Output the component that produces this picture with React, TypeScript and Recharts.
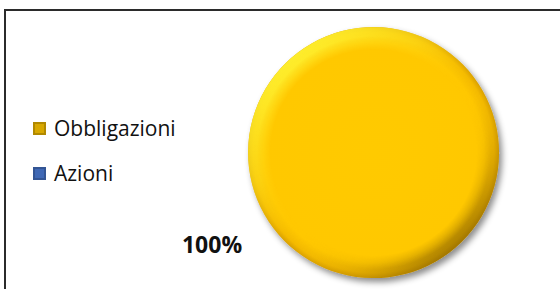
import { Cell, Pie, PieChart } from 'recharts'

const categories = ['Obbligazioni', 'Azioni']
const shares = [100, 0]
const sliceColors = ['#FFC800', '#3F68B5']
const legendColors = ['#D8A800', '#3F68B5']

const data = categories.map((name, index) => ({ name, value: shares[index] }))

const RADIAN = Math.PI / 180

function renderLabel(props: any) {
  const { cx, cy, midAngle, outerRadius, percent, value } = props
  if (!value) {
    return null
  }
  const r = outerRadius + 60
  const x = cx + r * Math.cos(-midAngle * RADIAN)
  const y = cy + r * Math.sin(-midAngle * RADIAN)
  return (
    <text
      x={x}
      y={y}
      textAnchor="middle"
      dominantBaseline="central"
      fontFamily="'Open Sans', sans-serif"
      fontWeight={700}
      fontSize={23}
      fill="#111"
    >
      {`${Math.round(percent * 100)}%`}
    </text>
  )
}

export default function App() {
  return (
    <div style={{ position: 'fixed', left: 0, top: 0, width: 560, height: 289, background: '#fff', overflow: 'hidden' }}>
      <div
        style={{
          position: 'absolute',
          left: 4,
          top: 9,
          width: 620,
          height: 320,
          border: '2px solid #2b2b2b',
          boxSizing: 'border-box',
        }}
      />
      <div style={{ position: 'absolute', left: 0, top: 0 }}>
        <PieChart width={560} height={289} margin={{ top: 0, right: 0, bottom: 0, left: 0 }}>
          <defs>
            <radialGradient id="pieFill" cx="50%" cy="50%" r="50%">
              <stop offset="0%" stopColor="#FFCA00" />
              <stop offset="88%" stopColor="#FFC800" />
              <stop offset="96%" stopColor="#F4BA00" />
              <stop offset="100%" stopColor="#D9A000" />
            </radialGradient>
            <linearGradient id="rimFill" x1="15%" y1="10%" x2="85%" y2="90%">
              <stop offset="0%" stopColor="#FFF230" stopOpacity={1} />
              <stop offset="30%" stopColor="#FFE420" stopOpacity={0.5} />
              <stop offset="55%" stopColor="#FFC800" stopOpacity={0} />
              <stop offset="80%" stopColor="#B08200" stopOpacity={0.3} />
              <stop offset="100%" stopColor="#7A5800" stopOpacity={0.7} />
            </linearGradient>
            <radialGradient id="rimAlpha" cx="50%" cy="50%" r="50%">
              <stop offset="0%" stopColor="#000" />
              <stop offset="82%" stopColor="#000" />
              <stop offset="93%" stopColor="#fff" />
              <stop offset="100%" stopColor="#fff" />
            </radialGradient>
            <mask id="rimMask" maskContentUnits="objectBoundingBox">
              <rect x={0} y={0} width={1} height={1} fill="url(#rimAlpha)" />
            </mask>
            <filter id="pieShadow" x="-20%" y="-20%" width="140%" height="140%">
              <feDropShadow dx="3" dy="4" stdDeviation="3" floodColor="#000" floodOpacity={0.45} />
            </filter>
          </defs>
          <Pie
            data={data}
            dataKey="value"
            nameKey="name"
            cx={373.5}
            cy={152.5}
            outerRadius={125.5}
            startAngle={29.5}
            endAngle={389.5}
            stroke="none"
            label={renderLabel}
            labelLine={false}
            isAnimationActive={false}
            style={{ filter: 'url(#pieShadow)' }}
          >
            {data.map((entry, index) => (
              <Cell key={entry.name} fill={index === 0 ? 'url(#pieFill)' : sliceColors[index]} />
            ))}
          </Pie>
          <Pie
            data={data}
            dataKey="value"
            nameKey="name"
            cx={373.5}
            cy={152.5}
            outerRadius={125.5}
            startAngle={29.5}
            endAngle={389.5}
            stroke="none"
            legendType="none"
            isAnimationActive={false}
          >
            {data.map((entry) => (
              <Cell key={entry.name} fill="url(#rimFill)" mask="url(#rimMask)" />
            ))}
          </Pie>
        </PieChart>
      </div>
      <div
        style={{
          position: 'absolute',
          left: 33,
          top: 114,
          fontFamily: "'Open Sans', sans-serif",
          fontSize: 21,
          color: '#111',
        }}
      >
        {categories.map((name, index) => (
          <div key={name} style={{ display: 'flex', alignItems: 'center', height: 28, marginBottom: 17 }}>
            <span
              style={{
                display: 'inline-block',
                width: 13,
                height: 13,
                marginRight: 8,
                background: legendColors[index],
                boxShadow: 'inset 0 0 0 2px rgba(0,0,0,0.18)',
              }}
            />
            <span>{name}</span>
          </div>
        ))}
      </div>
    </div>
  )
}
